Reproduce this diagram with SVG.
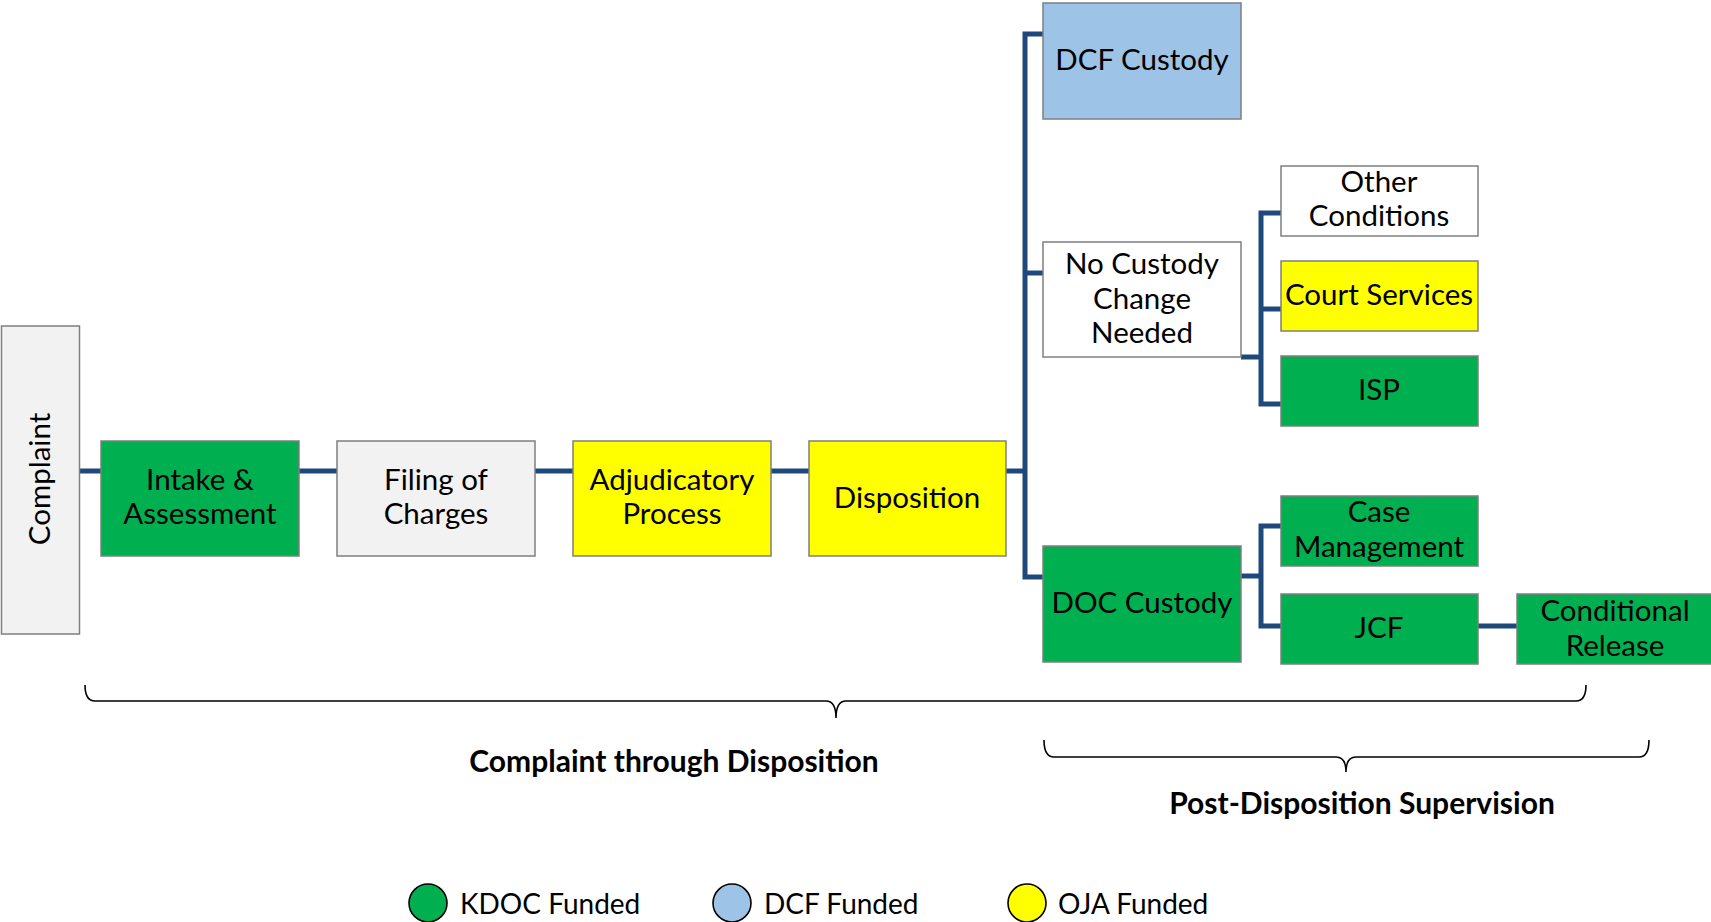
<svg xmlns="http://www.w3.org/2000/svg" width="1711" height="922" viewBox="0 0 1711 922">
  <style>
    text { font-family: Lato, "Liberation Sans", sans-serif; fill: #000; }
    .lbl { font-size: 29.5px; text-anchor: middle; }
    .box { stroke: #7f7f7f; stroke-width: 1.5; }
    .green { fill: #00b050; }
    .yellow { fill: #ffff00; }
    .blue { fill: #9dc3e6; }
    .grey { fill: #f2f2f2; }
    .white { fill: #ffffff; }
    .conn { fill: none; stroke: #1f497d; stroke-width: 5; stroke-linejoin: miter; }
    .brace { fill: none; stroke: #000; stroke-width: 1.6; }
    .cap { font-size: 30px; font-weight: bold; text-anchor: middle; }
    .key { stroke: #000; stroke-width: 1.6; }
    .keytxt { font-size: 28px; }
  </style>

  <rect width="1711" height="922" fill="#ffffff"/>

  <!-- connectors -->
  <g id="connectors" class="conn">
    <path d="M80 471 H101"/>
    <path d="M299 471 H337"/>
    <path d="M535 471 H573"/>
    <path d="M771 471 H809"/>
    <path d="M1006 471 H1025"/>
    <path d="M1043 34 H1025 V577 H1043"/>
    <path d="M1025 273 H1043"/>
    <path d="M1241 357 H1261"/>
    <path d="M1281 213 H1261 V404 H1281"/>
    <path d="M1261 309 H1281"/>
    <path d="M1241 576 H1261"/>
    <path d="M1281 526 H1261 V626 H1281"/>
    <path d="M1478 626 H1517"/>
  </g>

  <!-- main sequence -->
  <g id="complaint">
    <rect class="box grey" x="1.5" y="326" width="78" height="308"/>
    <text class="lbl" transform="translate(50,479) rotate(-90)">Complaint</text>
  </g>
  <g id="intake">
    <rect class="box green" x="101" y="441" width="198" height="115"/>
    <text class="lbl" x="200" y="490">Intake &amp;</text>
    <text class="lbl" x="200" y="524">Assessment</text>
  </g>
  <g id="filing">
    <rect class="box grey" x="337" y="441" width="198" height="115"/>
    <text class="lbl" x="436" y="490">Filing of</text>
    <text class="lbl" x="436" y="524">Charges</text>
  </g>
  <g id="adjudicatory">
    <rect class="box yellow" x="573" y="441" width="198" height="115"/>
    <text class="lbl" x="672" y="490">Adjudicatory</text>
    <text class="lbl" x="672" y="524">Process</text>
  </g>
  <g id="disposition">
    <rect class="box yellow" x="809" y="441" width="197" height="115"/>
    <text class="lbl" x="907" y="508">Disposition</text>
  </g>

  <!-- custody branches -->
  <g id="dcf-custody">
    <rect class="box blue" x="1043" y="3" width="198" height="116"/>
    <text class="lbl" x="1142" y="70">DCF Custody</text>
  </g>
  <g id="no-custody">
    <rect class="box white" x="1043" y="242" width="198" height="115"/>
    <text class="lbl" x="1142" y="274">No Custody</text>
    <text class="lbl" x="1142" y="309">Change</text>
    <text class="lbl" x="1142" y="343">Needed</text>
  </g>
  <g id="doc-custody">
    <rect class="box green" x="1043" y="546" width="198" height="116"/>
    <text class="lbl" x="1142" y="613">DOC Custody</text>
  </g>

  <!-- supervision options -->
  <g id="other-conditions">
    <rect class="box white" x="1281" y="166" width="197" height="70"/>
    <text class="lbl" x="1379" y="192">Other</text>
    <text class="lbl" x="1379" y="226">Conditions</text>
  </g>
  <g id="court-services">
    <rect class="box yellow" x="1281" y="261" width="197" height="70"/>
    <text class="lbl" x="1379" y="305">Court Services</text>
  </g>
  <g id="isp">
    <rect class="box green" x="1281" y="356" width="197" height="70"/>
    <text class="lbl" x="1379" y="400">ISP</text>
  </g>
  <g id="case-management">
    <rect class="box green" x="1281" y="496" width="197" height="70"/>
    <text class="lbl" x="1379" y="522">Case</text>
    <text class="lbl" x="1379" y="557">Management</text>
  </g>
  <g id="jcf">
    <rect class="box green" x="1281" y="594" width="197" height="70"/>
    <text class="lbl" x="1379" y="638">JCF</text>
  </g>
  <g id="conditional-release">
    <rect class="box green" x="1517" y="594" width="197" height="70"/>
    <text class="lbl" x="1615" y="621">Conditional</text>
    <text class="lbl" x="1615" y="656">Release</text>
  </g>

  <!-- phase braces -->
  <g id="phase-complaint">
    <path class="brace" d="M85 685 Q85 701 95 701 H826 Q836 701 836 718 Q836 701 846 701 H1576 Q1586 701 1586 685"/>
    <text class="cap" x="674" y="772">Complaint through Disposition</text>
  </g>
  <g id="phase-post">
    <path class="brace" d="M1044 740 Q1044 757 1054 757 H1336 Q1346 757 1346 772 Q1346 757 1356 757 H1639 Q1649 757 1649 740"/>
    <text class="cap" x="1362" y="814">Post-Disposition Supervision</text>
  </g>

  <!-- funding key -->
  <g id="legend">
    <circle class="key green" cx="428" cy="903" r="19"/>
    <text class="keytxt" x="460" y="914">KDOC Funded</text>
    <circle class="key blue" cx="732" cy="903" r="19"/>
    <text class="keytxt" x="764" y="914">DCF Funded</text>
    <circle class="key yellow" cx="1027" cy="903" r="19"/>
    <text class="keytxt" x="1058" y="914">OJA Funded</text>
  </g>
</svg>
